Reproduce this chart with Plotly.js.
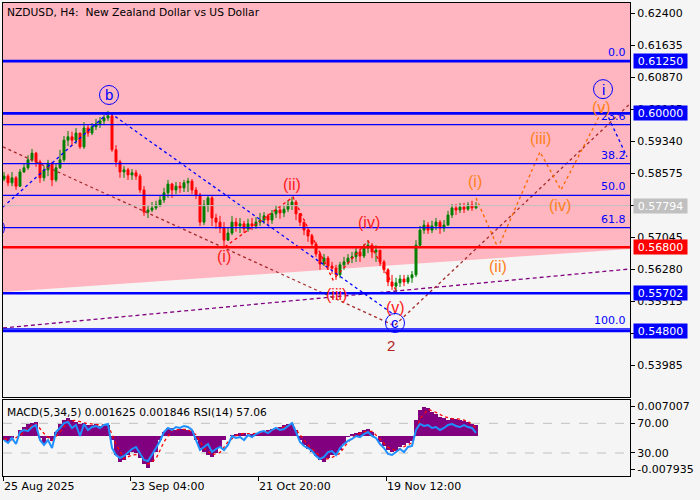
<!DOCTYPE html>
<html><head><meta charset="utf-8">
<script src="https://cdn.plot.ly/plotly-3.0.1.min.js"></script>
<style>html,body{margin:0;padding:0;background:#f5f5f5}</style>
</head><body><div id="chart" style="width:700px;height:500px"></div>
<script>
// ---------------- DATA ----------------
const opens = [0.5843,0.5850,0.5834,0.5846,0.5826,0.5860,0.5870,0.5889,0.5905,0.5884,
 0.5846,0.5865,0.5881,0.5841,0.5870,0.5889,0.5936,0.5944,0.5936,0.5953,
 0.5920,0.5965,0.5953,0.5968,0.5975,0.5982,0.5989,0.5994,0.5913,0.5884,
 0.5860,0.5865,0.5853,0.5858,0.5850,0.5817,0.5764,0.5769,0.5774,0.5781,
 0.5793,0.5810,0.5831,0.5817,0.5826,0.5822,0.5834,0.5838,0.5817,0.5805,
 0.5740,0.5781,0.5798,0.5750,0.5740,0.5726,0.5697,0.5714,0.5740,0.5731,
 0.5736,0.5724,0.5736,0.5731,0.5740,0.5745,0.5755,0.5745,0.5760,0.5769,
 0.5762,0.5771,0.5781,0.5788,0.5760,0.5740,0.5721,0.5707,0.5688,0.5664,
 0.5640,0.5654,0.5635,0.5630,0.5614,0.5638,0.5645,0.5654,0.5657,0.5669,
 0.5659,0.5678,0.5685,0.5669,0.5673,0.5645,0.5626,0.5597,0.5587,0.5595,
 0.5604,0.5597,0.5607,0.5614,0.5685,0.5721,0.5733,0.5721,0.5731,0.5740,
 0.5726,0.5733,0.5757,0.5774,0.5769,0.5776,0.5771,0.5781,0.5774];
const highs = [0.5860,0.5855,0.5860,0.5850,0.5867,0.5881,0.5900,0.5915,0.5908,0.5889,
 0.5874,0.5889,0.5884,0.5879,0.5913,0.5946,0.5958,0.5956,0.5965,0.5953,
 0.5979,0.5972,0.5977,0.5987,0.5991,0.5996,0.6006,0.5996,0.5924,0.5889,
 0.5874,0.5870,0.5867,0.5865,0.5855,0.5826,0.5781,0.5788,0.5791,0.5805,
 0.5822,0.5841,0.5834,0.5836,0.5836,0.5841,0.5846,0.5843,0.5824,0.5810,
 0.5793,0.5805,0.5803,0.5760,0.5755,0.5740,0.5726,0.5755,0.5750,0.5750,
 0.5743,0.5748,0.5750,0.5752,0.5762,0.5764,0.5760,0.5769,0.5781,0.5776,
 0.5781,0.5793,0.5800,0.5793,0.5762,0.5740,0.5726,0.5712,0.5693,0.5669,
 0.5664,0.5659,0.5645,0.5638,0.5645,0.5657,0.5664,0.5669,0.5678,0.5676,
 0.5688,0.5697,0.5690,0.5685,0.5673,0.5650,0.5630,0.5614,0.5607,0.5614,
 0.5614,0.5614,0.5623,0.5697,0.5731,0.5745,0.5740,0.5743,0.5750,0.5745,
 0.5745,0.5767,0.5783,0.5783,0.5786,0.5786,0.5788,0.5791,0.5788];
const lows = [0.5838,0.5826,0.5826,0.5817,0.5824,0.5858,0.5865,0.5884,0.5872,0.5834,
 0.5838,0.5850,0.5826,0.5836,0.5867,0.5884,0.5922,0.5922,0.5927,0.5915,
 0.5915,0.5944,0.5948,0.5960,0.5965,0.5972,0.5982,0.5908,0.5872,0.5846,
 0.5846,0.5841,0.5841,0.5841,0.5810,0.5755,0.5750,0.5764,0.5769,0.5776,
 0.5786,0.5798,0.5798,0.5807,0.5810,0.5812,0.5812,0.5807,0.5795,0.5731,
 0.5733,0.5764,0.5731,0.5724,0.5714,0.5681,0.5695,0.5709,0.5717,0.5714,
 0.5714,0.5717,0.5721,0.5724,0.5731,0.5736,0.5731,0.5736,0.5750,0.5748,
 0.5752,0.5764,0.5769,0.5745,0.5731,0.5709,0.5693,0.5681,0.5657,0.5626,
 0.5635,0.5626,0.5616,0.5602,0.5607,0.5626,0.5638,0.5642,0.5645,0.5645,
 0.5654,0.5666,0.5654,0.5645,0.5635,0.5618,0.5587,0.5578,0.5573,0.5585,
 0.5587,0.5592,0.5595,0.5609,0.5678,0.5712,0.5712,0.5714,0.5721,0.5712,
 0.5717,0.5731,0.5750,0.5757,0.5762,0.5762,0.5767,0.5767,0.5771];
const closes = [0.5850,0.5834,0.5846,0.5826,0.5860,0.5870,0.5889,0.5905,0.5884,0.5846,
 0.5865,0.5881,0.5841,0.5870,0.5889,0.5936,0.5944,0.5936,0.5953,0.5920,
 0.5965,0.5953,0.5968,0.5975,0.5982,0.5989,0.5994,0.5913,0.5884,0.5860,
 0.5865,0.5853,0.5858,0.5850,0.5817,0.5764,0.5769,0.5774,0.5781,0.5793,
 0.5810,0.5831,0.5817,0.5826,0.5822,0.5834,0.5838,0.5817,0.5805,0.5740,
 0.5781,0.5798,0.5750,0.5740,0.5726,0.5697,0.5714,0.5740,0.5731,0.5736,
 0.5724,0.5736,0.5731,0.5740,0.5745,0.5755,0.5745,0.5760,0.5769,0.5762,
 0.5771,0.5781,0.5788,0.5760,0.5740,0.5721,0.5707,0.5688,0.5664,0.5640,
 0.5654,0.5635,0.5630,0.5614,0.5638,0.5645,0.5654,0.5657,0.5669,0.5659,
 0.5678,0.5685,0.5669,0.5673,0.5645,0.5626,0.5597,0.5587,0.5595,0.5604,
 0.5597,0.5607,0.5614,0.5685,0.5721,0.5733,0.5721,0.5731,0.5740,0.5726,
 0.5733,0.5757,0.5774,0.5769,0.5776,0.5771,0.5781,0.5774,0.57794];
const macdHist = [-0.0011,-0.0015,-0.0006,-0.0001,0.0013,0.0020,0.0027,0.0030,0.0032,-0.0006,
 -0.0018,-0.0006,-0.0013,0.0008,0.0027,0.0037,0.0042,0.0037,0.0032,0.0027,
 0.0030,0.0025,0.0025,0.0027,0.0023,0.0025,0.0025,-0.0011,-0.0046,-0.0063,
 -0.0058,-0.0046,-0.0039,-0.0042,-0.0053,-0.0068,-0.0077,-0.0063,-0.0039,-0.0011,
 0.0008,0.0018,0.0018,0.0013,0.0015,0.0015,0.0013,0.0011,-0.0011,-0.0030,
 -0.0039,-0.0046,-0.0051,-0.0042,-0.0027,-0.0011,-0.0001,0.0001,0.0004,0.0006,
 0.0006,0.0001,0.0004,0.0006,0.0008,0.0011,0.0013,0.0015,0.0018,0.0020,
 0.0025,0.0027,0.0027,0.0013,-0.0011,-0.0023,-0.0032,-0.0039,-0.0049,-0.0058,
 -0.0063,-0.0053,-0.0046,-0.0044,-0.0034,-0.0020,-0.0004,0.0004,0.0006,0.0008,
 0.0013,0.0015,0.0008,-0.0001,-0.0015,-0.0025,-0.0034,-0.0039,-0.0037,-0.0027,
 -0.0023,-0.0018,-0.0013,0.0037,0.0060,0.0068,0.0065,0.0056,0.0051,0.0044,
 0.0042,0.0037,0.0042,0.0039,0.0037,0.0034,0.0032,0.0027,0.0025];
const signalIdx = [0,2,4,6,8,10,12,14,16,18,20,22,24,26,28,30,32,34,36,38,
 40,42,44,46,48,50,52,54,56,58,60,62,64,66,68,70,72,74,76,78,
 80,82,84,86,88,90,92,94,96,98,100,102,104,106,108,110,112,114,116,118];
const signalVals = [-0.0008,-0.0010,0.0000,0.0018,0.0028,0.0005,-0.0012,0.0008,0.0034,0.0036,
 0.0030,0.0027,0.0025,0.0025,-0.0020,-0.0055,-0.0046,-0.0045,-0.0068,-0.0055,
 -0.0015,0.0012,0.0015,0.0014,0.0002,-0.0030,-0.0046,-0.0040,-0.0015,0.0000,
 0.0005,0.0004,0.0006,0.0010,0.0015,0.0021,0.0026,0.0002,-0.0022,-0.0040,
 -0.0057,-0.0052,-0.0042,-0.0015,0.0002,0.0009,0.0010,-0.0008,-0.0028,-0.0036,
 -0.0027,-0.0017,0.0040,0.0062,0.0055,0.0045,0.0040,0.0039,0.0034,0.0018];
const rsiVals = [47.5,43.5,50.2,42.1,58.3,61.0,59.6,65.0,67.7,47.5,
 40.8,47.5,36.7,58.3,63.7,70.4,71.8,63.7,67.7,52.9,
 69.1,61.0,65.0,66.4,63.7,67.7,69.1,36.7,27.3,23.3,
 26.0,31.3,35.4,38.1,30.0,20.6,19.2,27.3,36.7,46.2,
 58.3,63.7,61.0,65.0,63.7,66.4,65.0,61.0,47.5,34.0,
 38.1,42.1,31.3,35.4,38.1,34.0,40.8,52.9,50.2,51.5,
 47.5,54.2,51.5,55.6,58.3,59.6,56.9,61.0,63.7,61.0,
 62.3,66.4,70.4,58.3,44.8,39.4,36.7,32.7,26.0,21.9,
 24.6,31.3,32.7,27.3,36.7,42.1,46.2,48.9,52.9,51.5,
 55.6,58.3,52.9,50.2,42.1,36.7,28.7,27.3,31.3,35.4,
 31.3,38.1,39.4,61.0,69.1,66.4,67.7,63.7,65.0,61.0,
 63.7,67.7,69.1,66.4,65.0,67.7,65.0,63.7,57.06];

const dateTickIdx = [-0.25, 31.5, 63.5, 95.5];
const dateTickText = ['25 Aug 2025', '23 Sep 04:00', '21 Oct 20:00', '19 Nov 12:00'];
const priceTicks = [0.62400, 0.61635, 0.60870, 0.60105, 0.59340, 0.58575, 0.57810, 0.57045, 0.56280, 0.55515, 0.54750, 0.53985];
const keyLevels = [0.61250, 0.60000, 0.56800, 0.55702, 0.54800];
const fibLabels = ['0.0', '23.6', '38.2', '50.0', '61.8', '100.0'];
const fibPrices = [0.6125, 0.5973, 0.5880, 0.5804, 0.5727, 0.5485];
const bidPrice = 0.57794;
const macdText = 'MACD(5,34,5) 0.001625 0.001846 RSI(14) 57.06';
const titleText = 'NZDUSD, H4:  New Zealand Dollar vs US Dollar';
const macdTicks = [0.007007, -0.007935];
const rsiTicks = [70, 30];

// zone (pink box) corners
const zoneX = [-0.25, 156.5, 156.5, -0.25];
const zoneY = [0.6270, 0.6270, 0.5676, 0.5573];
// wave / channel lines
const abcX = [-0.25, 26.25, 97.6];   const abcY = [0.5776, 0.6003, 0.5518];
const chanX = [-0.25, 97.25];        const chanY = [0.5920, 0.5494];
const riseX = [97.75, 156.5];        const riseY = [0.5494, 0.6023];
const trendX = [-0.25, 156.5];       const trendY = [0.5487, 0.5628];
const redWaveX = [55.25, 72.25, 82.25, 91.0, 98.25];
const redWaveY = [0.5681, 0.5800, 0.5602, 0.5695, 0.5573];
const orWaveX = [118.0, 123.5, 134.0, 139.25, 150.0];
const orWaveY = [0.5798, 0.5678, 0.5908, 0.5817, 0.6015];
const blueIIX = [150.5, 155.75];      const blueIIY = [0.6003, 0.5896];

// labels
const redLabels = ['(i)', '(ii)', '(iii)', '(iv)', '(v)'];
const redLabelX = [55.0, 72.0, 83.0, 91.25, 97.75];
const redLabelY = [0.5657, 0.5829, 0.5566, 0.5740, 0.5537];
const orLabels = ['(i)', '(ii)', '(iii)', '(iv)', '(v)'];
const orLabelX = [117.75, 123.5, 134.0, 139.0, 149.25];
const orLabelY = [0.5838, 0.5635, 0.5941, 0.5779, 0.6013];
const circLabels = ['b', 'c', 'i', 'a'];
const circX = [26.25, 97.75, 149.75, -2.25];
const circY = [0.6044, 0.5499, 0.6058, 0.5726];
const degreeLabel = '2'; const degreeX = 96.75; const degreeY = 0.5446;

// ---------------- BUILD ----------------
const idx = opens.map((_, i) => i);
const fmt5 = v => v.toFixed(5);
const traces = [];
traces.push({type: 'candlestick', x: idx, open: opens, high: highs, low: lows, close: closes,
  xaxis: 'x', yaxis: 'y', whiskerwidth: 0,
  increasing: {line: {color: '#008000', width: 1}, fillcolor: '#008000'},
  decreasing: {line: {color: '#ff0000', width: 1}, fillcolor: '#ff0000'},
  hoverinfo: 'skip'});
function lineTrace(x, y, color, dash, width) {
  return {type: 'scatter', mode: 'lines', x: x, y: y, xaxis: 'x', yaxis: 'y',
    line: {color: color, dash: dash, width: width}, hoverinfo: 'skip', cliponaxis: true};
}
traces.push(lineTrace(trendX, trendY, '#800080', '4px,3px', 1.3));
traces.push(lineTrace(chanX, chanY, '#a52a2a', 'dot', 1.3));
traces.push(lineTrace(riseX, riseY, '#a52a2a', 'dot', 1.3));
traces.push(lineTrace(abcX, abcY, '#0000ff', 'dot', 1.3));
traces.push(lineTrace(redWaveX, redWaveY, '#ff0000', 'dot', 1.3));
traces.push(lineTrace(orWaveX, orWaveY, '#ff6a00', 'dot', 1.3));
traces.push(lineTrace(blueIIX, blueIIY, '#0000ff', 'dot', 1.3));
// indicator pane
traces.push({type: 'bar', x: idx, y: macdHist, xaxis: 'x2', yaxis: 'y2', width: 1,
  marker: {color: '#800080', line: {width: 0}}, hoverinfo: 'skip'});
traces.push({type: 'scatter', mode: 'lines', x: signalIdx, y: signalVals, xaxis: 'x2', yaxis: 'y2',
  line: {color: '#ff0000', dash: 'dot', width: 1.3}, hoverinfo: 'skip'});
traces.push({type: 'scatter', mode: 'lines', x: idx, y: rsiVals, xaxis: 'x2', yaxis: 'y3',
  line: {color: '#1e90ff', width: 2}, hoverinfo: 'skip'});

const shapes = [];
shapes.push({type: 'path', xref: 'x', yref: 'y', layer: 'below',
  path: 'M' + zoneX.map((x, i) => x + ',' + zoneY[i]).join('L') + 'Z',
  fillcolor: '#ffb6c1', line: {width: 0}});
fibPrices.forEach(p => shapes.push({type: 'line', xref: 'paper', yref: 'y', x0: 0, x1: 1, y0: p, y1: p,
  line: {color: '#0000ff', width: 1.2}}));
shapes.push({type: 'line', xref: 'paper', yref: 'y', x0: 0, x1: 1, y0: bidPrice, y1: bidPrice,
  line: {color: '#c0c0c0', width: 1}});
const levelColors = ['#0000ff', '#0000ff', '#ff0000', '#0000ff', '#0000ff'];
keyLevels.forEach((p, i) => shapes.push({type: 'line', xref: 'paper', yref: 'y', x0: 0, x1: 1, y0: p, y1: p,
  line: {color: levelColors[i], width: 2.6}}));
rsiTicks.forEach(v => shapes.push({type: 'line', xref: 'paper', yref: 'y3', x0: 0, x1: 1, y0: v, y1: v,
  line: {color: '#c0c0c0', width: 1, dash: 'dash'}, layer: 'below'}));
circLabels.forEach((t, i) => shapes.push({type: 'circle', xref: 'x', yref: 'y',
  xsizemode: 'pixel', ysizemode: 'pixel', xanchor: circX[i], yanchor: circY[i],
  x0: -9.5, x1: 9.5, y0: -9.5, y1: 9.5, line: {color: '#0000ff', width: 1}}));

const ann = [];
ann.push({xref: 'paper', yref: 'paper', x: 0, y: 1, xshift: 2, yshift: -1, xanchor: 'left', yanchor: 'top',
  text: titleText, showarrow: false, font: {family: 'DejaVu Sans', size: 10.7, color: '#000'}});
ann.push({xref: 'paper', yref: 'paper', x: 0, y: 76 / 473, xshift: 2, yshift: -4, xanchor: 'left', yanchor: 'top',
  text: macdText, showarrow: false, font: {family: 'DejaVu Sans', size: 10.7, color: '#000'}});
fibLabels.forEach((t, i) => ann.push({xref: 'paper', yref: 'y', x: 1, xshift: -2, y: fibPrices[i], yshift: 0,
  xanchor: 'right', yanchor: 'bottom', text: t, showarrow: false,
  font: {family: 'DejaVu Sans', size: 11, color: '#0000ff'}}));
function box(p, bg) {
  ann.push({xref: 'paper', yref: 'y', x: 1, xshift: 3, y: p, xanchor: 'left', yanchor: 'middle',
    text: fmt5(p), showarrow: false, bgcolor: bg, borderpad: 1, width: 51, height: 12,
    font: {family: 'DejaVu Sans', size: 11, color: '#ffffff'}});
}
keyLevels.forEach((p, i) => box(p, levelColors[i]));
box(bidPrice, '#c0c0c0');
redLabels.forEach((t, i) => ann.push({xref: 'x', yref: 'y', x: redLabelX[i], y: redLabelY[i], text: t,
  showarrow: false, font: {family: 'Liberation Sans', size: 16, color: '#ff1a1a'}}));
orLabels.forEach((t, i) => ann.push({xref: 'x', yref: 'y', x: orLabelX[i], y: orLabelY[i], text: t,
  showarrow: false, font: {family: 'Liberation Sans', size: 16, color: '#ff8020'}}));
circLabels.forEach((t, i) => { if (circX[i] >= 0) ann.push({xref: 'x', yref: 'y', x: circX[i], y: circY[i], text: t,
  showarrow: false, font: {family: 'Liberation Sans', size: 15, color: '#0000ff'}}); });
ann.push({xref: 'x', yref: 'y', x: degreeX, y: degreeY, text: degreeLabel, showarrow: false,
  font: {family: 'Liberation Sans', size: 15, color: '#b22222'}});

// tick labels that sit fully behind a price box are left blank (as hidden in the reference)
const boxedPrices = keyLevels.concat([bidPrice]);
const priceTickText = priceTicks.map(v => boxedPrices.some(b => Math.abs(b - v) < 0.0009) ? '' : fmt5(v));

const axBase = {showgrid: false, zeroline: false, showline: true, mirror: true, linecolor: '#000', linewidth: 1,
  tickcolor: '#000', tickfont: {family: 'DejaVu Sans', size: 11, color: '#000'}};
const xr = [-0.25, 156.5];
const layout = {
  width: 700, height: 500, margin: {l: 3, r: 70, t: 3, b: 24},
  paper_bgcolor: '#f5f5f5', plot_bgcolor: '#f5f5f5', showlegend: false, bargap: 0,
  font: {family: 'DejaVu Sans', size: 11, color: '#000'},
  xaxis: Object.assign({}, axBase, {domain: [0, 1], anchor: 'y', range: xr, showticklabels: false, ticks: '',
    rangeslider: {visible: false}, fixedrange: true}),
  yaxis: Object.assign({}, axBase, {domain: [79 / 473, 1], anchor: 'x', side: 'right', range: [0.53220, 0.62639],
    tickmode: 'array', tickvals: priceTicks, ticktext: priceTickText, ticks: 'outside', ticklen: 4}),
  xaxis2: Object.assign({}, axBase, {domain: [0, 1], anchor: 'y2', range: xr, tickmode: 'array',
    tickvals: dateTickIdx, ticktext: dateTickText, ticks: 'outside', ticklen: 4, ticklabelposition: 'outside right'}),
  yaxis2: Object.assign({}, axBase, {domain: [0, 76 / 473], anchor: 'x2', side: 'right', range: [-0.009595, 0.00843],
    tickmode: 'array', tickvals: macdTicks, ticktext: macdTicks.map(v => v.toFixed(6)), ticks: 'outside', ticklen: 4}),
  yaxis3: Object.assign({}, axBase, {overlaying: 'y2', anchor: 'x2', side: 'right', range: [-1, 101.4], showline: false,
    tickmode: 'array', tickvals: rsiTicks, ticktext: rsiTicks.map(v => v.toFixed(2)), ticks: 'outside', ticklen: 4}),
  shapes: shapes, annotations: ann
};
Plotly.newPlot('chart', traces, layout, {staticPlot: true, displayModeBar: false});
</script></body></html>
